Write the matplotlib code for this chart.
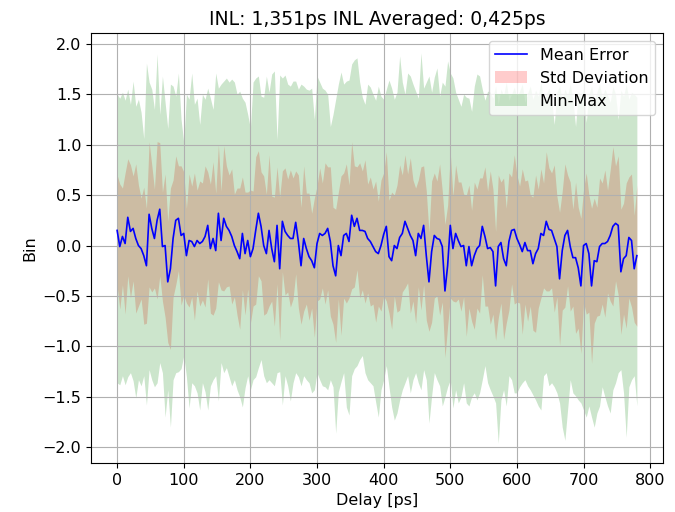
import numpy as np
import matplotlib
matplotlib.use("Agg")
import matplotlib.pyplot as plt

# delay axis: one sample every 4 ps
delay = np.arange(0, 784, 4)

mean_error = [
    0.15, -0.01, 0.09, 0.02, 0.28, 0.14, 0.17, 0.07, 0.00, -0.03, -0.10, -0.20, 0.31, 0.17, 0.07, 0.25,
    0.36, -0.01, 0.00, -0.36, -0.23, 0.07, 0.25, 0.27, 0.10, 0.12, -0.10, 0.05, 0.04, -0.01, 0.05, 0.02,
    0.04, 0.09, 0.20, -0.03, 0.07, -0.05, 0.32, 0.05, 0.27, 0.19, 0.15, 0.09, 0.00, -0.06, -0.13, 0.12,
    -0.08, 0.05, -0.11, -0.03, 0.15, 0.32, 0.19, 0.00, -0.08, 0.15, -0.03, -0.16, 0.20, -0.23, 0.24, 0.14,
    0.10, 0.07, 0.07, 0.23, 0.04, -0.20, 0.07, -0.03, -0.11, -0.15, -0.22, 0.02, 0.12, 0.10, 0.12, 0.17,
    0.04, -0.20, -0.30, 0.00, -0.10, 0.10, 0.12, 0.04, 0.30, 0.19, 0.27, 0.15, 0.15, 0.14, 0.07, 0.04,
    -0.01, -0.06,
    -0.08, 0.00, 0.11, 0.19, -0.11, -0.15, 0.00, -0.03, 0.08, 0.12, 0.24, 0.17, 0.10, 0.05, -0.10, 0.12,
    0.07, 0.20, -0.10, -0.36, -0.06, 0.10, 0.07, 0.06, -0.01, -0.45, -0.20, 0.20, -0.03, 0.12, 0.05, -0.01,
    0.00,
    -0.20, -0.01, -0.20, -0.10, -0.03, 0.00, 0.19, 0.09, -0.03, -0.02, -0.06, -0.40, -0.01, 0.03, -0.13, -0.20,
    0.04, 0.15, 0.16, 0.07, 0.01, -0.06, 0.03, -0.05, -0.05, -0.18, -0.08, -0.03, 0.12, 0.10, 0.24, 0.16,
    0.15,
    0.07, -0.01, -0.33, -0.05, 0.10, 0.15, -0.01, -0.12, -0.12, -0.22, -0.40, 0.00, 0.02, -0.08, -0.40, -0.15,
    -0.16, -0.01, 0.02, 0.02, 0.04, 0.10, 0.19, 0.22, 0.20, -0.26, -0.13, -0.10, 0.08, 0.05, -0.23, -0.10,
]

std_dev = [
    0.55, 0.62, 0.48, 0.70, 0.58, 0.66, 0.52, 0.74, 0.60, 0.50, 0.68, 0.57, 0.72, 0.63, 0.49, 0.78,
    0.66, 0.54, 0.71, 0.60, 0.80, 0.58, 0.64, 0.52, 0.69, 0.61, 0.47, 0.66, 0.55, 0.73, 0.50, 0.62,
    0.58, 0.70, 0.53, 0.64, 0.76, 0.57, 0.68, 0.49, 0.72, 0.60, 0.55, 0.67, 0.51, 0.63, 0.70, 0.56,
    0.61, 0.48, 0.66, 0.57, 0.73, 0.62, 0.54, 0.69, 0.59, 0.75, 0.52, 0.64, 0.58, 0.71, 0.50, 0.63,
    0.56, 0.68, 0.60, 0.51, 0.66, 0.58, 0.72, 0.55, 0.63, 0.47, 0.69, 0.57, 0.65, 0.52, 0.70, 0.61,
    0.74, 0.58, 0.66, 0.53, 0.79, 0.62, 0.69, 0.56, 0.73, 0.60, 0.51, 0.67, 0.59, 0.71, 0.54, 0.64,
    0.57, 0.70, 0.52, 0.65, 0.61, 0.74, 0.56, 0.68, 0.50, 0.63, 0.72, 0.58, 0.66, 0.54, 0.77, 0.60,
    0.67, 0.53, 0.71, 0.59, 0.64, 0.49, 0.70, 0.62, 0.57, 0.75, 0.55, 0.66, 0.60, 0.72, 0.52, 0.68,
    0.58, 0.64, 0.51, 0.70, 0.61, 0.55, 0.73, 0.59, 0.67, 0.48, 0.69, 0.57, 0.76, 0.62, 0.54, 0.71,
    0.60, 0.80, 0.57, 0.68, 0.53, 0.74, 0.63, 0.58, 0.82, 0.61, 0.70, 0.55, 0.66, 0.78, 0.59, 0.64,
    0.52, 0.69, 0.61, 0.57, 0.73, 0.50, 0.66, 0.59, 0.71, 0.55, 0.64, 0.48, 0.75, 0.60, 0.67, 0.56,
    0.70, 0.58, 0.77, 0.62, 0.54, 0.68, 0.60, 0.73, 0.51, 0.65, 0.79, 0.57, 0.69, 0.62, 0.55, 0.72,
    0.60, 0.66, 0.53, 0.70,
]

max_error = [
    1.50, 1.46, 1.52, 1.44, 1.55, 1.40, 1.63, 1.38, 1.45, 1.32, 1.06, 1.81, 1.62, 1.55, 1.35, 1.90,
    1.30, 1.68, 1.42, 1.16, 1.60, 1.58, 1.48, 1.71, 1.25, 1.02, 1.50, 1.45, 1.71, 1.40, 1.46, 1.20,
    1.50, 1.45, 1.56, 1.46, 1.35, 1.71, 1.56, 1.60, 1.63, 1.66, 1.62, 1.65, 1.62, 1.50, 1.53, 1.46,
    1.42, 1.30, 1.16, 1.62, 1.66, 1.68, 1.48, 1.47, 1.68, 1.52, 1.70, 1.73, 1.05, 1.69, 1.66, 1.69,
    1.60, 1.58, 1.63, 1.63, 1.55, 1.60, 1.58, 1.55, 1.54, 1.56, 1.25, 1.68, 1.62, 1.56, 1.54, 1.50,
    1.18, 1.30, 1.45, 1.60, 1.72, 1.60, 1.63, 1.64, 1.80, 1.84, 1.86, 1.62, 1.47, 1.40, 1.60, 1.57,
    1.50, 1.44, 1.58, 1.48, 1.45, 1.55, 1.64, 1.56, 1.45, 1.52, 1.88, 1.62, 1.50, 1.71, 1.68, 1.60,
    1.53, 1.46, 1.91, 1.56, 1.62, 1.68, 1.52, 1.67, 1.76, 1.48, 1.62, 1.58, 1.83, 1.71, 1.66, 1.52,
    1.45, 1.38, 1.50, 1.47, 1.46, 1.33, 1.58, 1.70, 1.68, 1.55, 1.44, 1.53, 1.52, 1.46, 1.58, 1.40,
    1.55, 1.49, 1.62, 1.44, 1.50, 1.57, 1.47, 1.53, 1.60, 1.42, 1.51, 1.58, 1.45, 1.54, 1.48, 1.62,
    1.43, 1.50, 1.56, 1.46, 1.20, 1.52, 1.58, 1.44, 1.55, 1.49, 1.60, 1.45, 1.18, 1.53, 1.47, 1.56,
    1.22, 1.50, 1.58, 1.44, 1.52, 1.60, 1.47, 1.55, 1.49, 1.42, 1.58, 1.50, 1.25, 1.54, 1.48, 1.60,
    1.45, 1.52, 1.50, 1.47,
]

min_error = [
    -1.36, -1.38, -1.29, -1.38, -1.30, -1.26, -1.34, -1.51, -1.33, -1.39, -1.29, -1.58, -1.23, -1.33, -1.40, -1.36,
    -1.16, -1.26, -1.70, -1.43, -1.80, -1.33, -1.26, -1.25, -1.22, -1.09, -1.30, -1.61, -1.36, -1.39, -1.46, -1.63,
    -1.36, -1.45, -1.63, -1.39, -1.33, -1.29, -1.54, -1.16, -1.26, -1.21, -1.30, -1.39, -1.33, -1.43, -1.50, -1.60,
    -1.41, -1.29, -1.43, -1.33, -1.30, -1.21, -1.13, -1.29, -1.36, -1.33, -1.36, -1.39, -1.26, -1.25, -1.58, -1.29,
    -1.39, -1.54, -1.36, -1.26, -1.30, -1.39, -1.29, -1.33, -1.36, -1.46, -1.43, -1.26, -1.33, -1.39, -1.40, -1.43,
    -1.33, -1.40, -1.86, -1.45, -1.35, -1.26, -1.60, -1.68, -1.29, -1.22, -1.19, -1.13, -1.09, -1.26, -1.33, -1.36,
    -1.39, -1.55, -1.70, -1.43, -1.33, -1.19, -1.40, -1.60, -1.73, -1.66, -1.53, -1.43, -1.36, -1.29, -1.46, -1.33,
    -1.26, -1.36, -1.43, -1.23, -1.33, -1.76, -1.49, -1.26, -1.33, -1.39, -1.59, -1.50, -1.40, -1.33, -1.61, -1.43,
    -1.56, -1.50, -1.36, -1.56, -1.59, -1.50, -1.46, -1.53, -1.46, -1.33, -1.19, -1.36, -1.43, -1.49, -1.56, -1.96,
    -1.53, -1.43, -1.59, -1.29, -1.33, -1.46, -1.46, -1.40, -1.36, -1.33, -1.39, -1.43, -1.48, -1.53, -1.59, -1.63,
    -1.29, -1.26, -1.39, -1.36, -1.40, -1.46, -1.56, -1.80, -1.93, -1.63, -1.33, -1.46, -1.49, -1.53, -1.56, -1.63,
    -1.70, -1.59, -1.70, -1.80, -1.66, -1.59, -1.40, -1.50, -1.59, -1.66, -1.43, -1.36, -1.26, -1.23, -1.46, -1.90,
    -1.40, -1.33, -1.29, -1.59,
]

inl = "1,351"
inl_avg = "0,425"

mean_error = np.array(mean_error)
std_dev = np.array(std_dev)

plt.rcParams['font.size'] = 11.5

fig, ax = plt.subplots(figsize=(6.75, 5.12), dpi=100)
fig.subplots_adjust(left=0.135, right=0.982, bottom=0.096, top=0.935)

ax.plot(delay, mean_error, color='blue', linewidth=1.2, label='Mean Error', zorder=3)
ax.fill_between(delay, mean_error - std_dev, mean_error + std_dev,
                color='red', alpha=0.2, linewidth=0, label='Std Deviation')
ax.fill_between(delay, min_error, max_error,
                color='green', alpha=0.2, linewidth=0, label='Min-Max')

ax.set_title(f"INL: {inl}ps INL Averaged: {inl_avg}ps", fontsize=13.5)
ax.set_xlabel("Delay [ps]")
ax.set_ylabel("Bin")
ax.set_xticks(np.arange(0, 801, 100))
ax.set_yticks(np.arange(-2.0, 2.01, 0.5))
ax.grid(True)
ax.legend(loc='upper right', handlelength=2.0)

fig.savefig("out.png", dpi=100)
